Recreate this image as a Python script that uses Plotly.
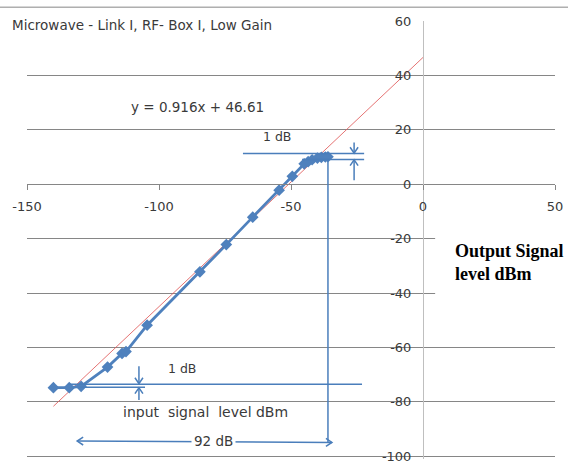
import plotly.graph_objects as go

# Measured transfer characteristic: input level vs output level (dBm)
input_dbm = [-140, -134, -129.5, -119.5, -114, -112.5, -104.5, -84.5, -74.5,
             -64.5, -54.5, -49.5, -45, -43.5, -42, -40, -38.5, -37, -36]
output_dbm = [-74.8, -74.8, -74.3, -67.2, -62.2, -61.5, -51.8, -32.2, -22.2,
              -12.1, -2.2, 2.9, 7.5, 8.3, 9.0, 9.6, 9.9, 10.0, 10.1]

# Linear trend line fitted in the spreadsheet
trend_slope = 0.916
trend_intercept = 46.61
trend_x = [-140, 0]

x_ticks = [-150, -100, -50, 0, 50]
x_tick_text = ["-150", "-100", "-50", "0", "50"]
y_ticks = [-100, -80, -60, -40, -20, 0, 20, 40, 60]
y_tick_text = ["-100", "-80", "-60", "-40", "-20", "0", "20", "40", "60"]
y_grid = [-100, -80, -60, -40, -20, 0, 20, 40]

# a little headroom below -100 so its gridline is kept
X_RANGE = [-150, 50]
Y_RANGE = [-101, 60]

W, H = 574, 467
ML, MR, MT, MB = 27, 19, 21, 3
PW, PH = W - ML - MR, H - MT - MB
PX_X = PW / (X_RANGE[1] - X_RANGE[0])   # pixels per x unit
PX_Y = PH / (Y_RANGE[1] - Y_RANGE[0])   # pixels per y unit

BLUE = "#4F81BD"
ANN_BLUE = "#4A7EBB"
GRID = "#868686"
TXT = "#3A3A3A"
SANS = "DejaVu Sans, Verdana, sans-serif"

fig = go.Figure()

fig.add_trace(go.Scatter(
    x=trend_x,
    y=[trend_slope * v + trend_intercept for v in trend_x],
    mode="lines", line=dict(color="rgba(225,90,90,0.85)", width=1),
    hoverinfo="skip", showlegend=False))

fig.add_trace(go.Scatter(
    x=input_dbm, y=output_dbm, mode="lines+markers",
    line=dict(color=BLUE, width=2.8),
    marker=dict(symbol="diamond", size=9, color=BLUE),
    showlegend=False))

shapes = []


def seg(x0, y0, x1, y1, width=1.5):
    shapes.append(dict(type="line", xref="x", yref="y", x0=x0, y0=y0, x1=x1, y1=y1,
                       line=dict(color=ANN_BLUE, width=width), layer="above"))


def head(x, y, dx, dy, size=6, half=4):
    """Open V arrow head with tip at (x, y) pointing along (dx, dy)."""
    # sizes are in pixels, converted back to data units
    if dx != 0:
        ax, ay = -dx * size, half
        bx, by = -dx * size, -half
    else:
        ax, ay = half, -dy * size
        bx, by = -half, -dy * size
    p1 = (x + ax / PX_X, y + ay / PX_Y)
    p2 = (x + bx / PX_X, y + by / PX_Y)
    shapes.append(dict(
        type="path", xref="x", yref="y",
        path=f"M {p1[0]},{p1[1]} L {x},{y} L {p2[0]},{p2[1]}",
        line=dict(color=ANN_BLUE, width=1.5), layer="above"))


# 1 dB compression marker (top)
seg(-68.2, 11.3, -22.3, 11.3)
seg(-45.8, 9.1, -22.3, 9.1)
seg(-26.1, 15.3, -26.1, 11.4)
head(-26.1, 11.4, 0, -1)
seg(-26.1, 1.5, -26.1, 9.0)
head(-26.1, 9.0, 0, 1)

# 1 dB marker (bottom)
seg(-134.5, -73.5, -23.1, -73.5)
seg(-130, -74.6, -105.3, -74.6)
seg(-107.6, -66.9, -107.6, -73.3)
head(-107.6, -73.3, 0, -1)
seg(-107.6, -79.3, -107.6, -74.8)
head(-107.6, -74.8, 0, 1)

# Vertical marker at the compression point and the 92 dB span arrow
seg(-36, 9.1, -36, -94.9)
seg(-131, -94.4, -34.5, -94.9)
head(-131, -94.4, -1, 0)
head(-34.5, -94.9, 1, 0)

# White box behind the output-level caption
shapes.append(dict(type="rect", xref="x", yref="y", x0=4.6, x1=50, y0=-43, y1=-18,
                   fillcolor="white", line=dict(width=0), layer="above"))

# Chart border line along the top
top_y = (PH + MT - 7) / PH
shapes.append(dict(type="line", xref="paper", yref="paper",
                   x0=-ML / PW, x1=(W - 6 - ML) / PW, y0=top_y, y1=top_y,
                   line=dict(color=GRID, width=1)))

annotations = [
    dict(text="Microwave - Link I, RF- Box I, Low Gain", xref="paper", yref="paper",
         x=(10 - ML) / PW, y=(PH + MT - 25) / PH, xanchor="left", yanchor="middle",
         showarrow=False, font=dict(family=SANS, size=13.5, color=TXT)),
    dict(text="y = 0.916x + 46.61", x=-85.6, y=28.4, showarrow=False,
         font=dict(family=SANS, size=13.5, color=TXT)),
    dict(text="1 dB", x=-55.3, y=17.5, showarrow=False,
         font=dict(family=SANS, size=12.5, color=TXT)),
    dict(text="1 dB", x=-91.3, y=-67.6, showarrow=False,
         font=dict(family=SANS, size=12.5, color=TXT)),
    dict(text="input  signal  level dBm", x=-82.2, y=-83.6, showarrow=False,
         font=dict(family=SANS, size=14, color=TXT)),
    dict(text="92 dB", x=-79.5, y=-94.5, showarrow=False, bgcolor="white", borderpad=2,
         font=dict(family=SANS, size=13.5, color=TXT)),
    dict(text="Output Signal<br>level dBm", xref="paper", yref="paper",
         x=(453 - ML) / PW, y=(PH + MT - 265) / PH, xanchor="left", yanchor="middle",
         align="left", showarrow=False,
         font=dict(family="Liberation Serif, Times New Roman, serif", size=18,
                   color="black", weight="bold")),
]

tick_font = dict(family=SANS, size=13, color=TXT)

fig.update_layout(
    width=W, height=H,
    margin=dict(l=ML, r=MR, t=MT, b=MB),
    paper_bgcolor="white", plot_bgcolor="white",
    shapes=shapes, annotations=annotations,
    xaxis=dict(range=X_RANGE, tickvals=x_ticks, ticktext=x_tick_text,
               showgrid=False, zeroline=False,
               anchor="free", position=(0 - Y_RANGE[0]) / (Y_RANGE[1] - Y_RANGE[0]),
               showline=True, linecolor=GRID, linewidth=1,
               ticks="outside", ticklen=5, tickcolor=GRID,
               tickfont=tick_font, ticklabelstandoff=5),
    yaxis=dict(range=Y_RANGE, tickvals=y_ticks, ticktext=y_tick_text,
               showgrid=False, zeroline=False,
               anchor="free", position=(0 - X_RANGE[0]) / (X_RANGE[1] - X_RANGE[0]),
               showline=True, linecolor="#BFBFBF", linewidth=1,
               ticks="", ticklabelstandoff=9, ticklabeloverflow="allow",
               tickfont=tick_font,
               minor=dict(tickvals=y_grid, showgrid=True, gridcolor=GRID, gridwidth=1)),
)

fig.write_html("out.html")
